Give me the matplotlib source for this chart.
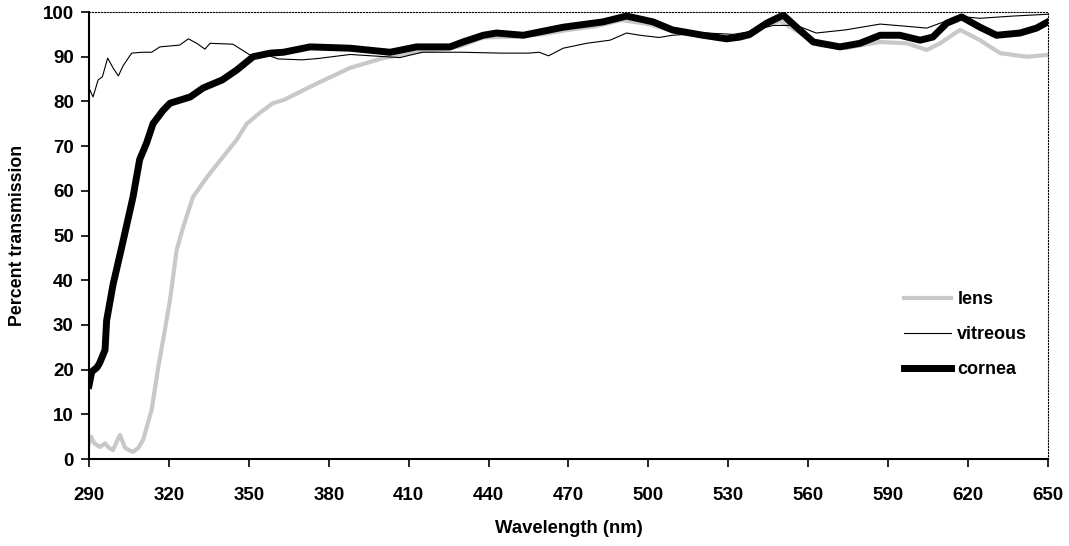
import matplotlib.pyplot as plt

plt.rcParams['font.family'] = ['Liberation Sans', 'DejaVu Sans']
plt.rcParams['font.weight'] = 'bold'

# wavelength (nm) / percent transmission
lens_wl = [290, 290.7, 292, 294, 296, 297.5, 299, 300.5, 301.6, 303.5, 305, 306.5,
           308.5, 310.3, 313.5, 316, 318.5, 320.4, 322.9, 325.4, 329, 334.2, 340.3,
           345.4, 349.2, 354.2, 359, 363, 375.5, 388, 400.5, 406.7, 415, 425, 430,
           438, 450, 460, 470, 480, 490, 500, 510, 520, 530, 538, 544, 549.4, 557,
           564.4, 574.4, 587, 597, 604.5, 609.5, 617, 624.5, 632, 642, 650]
lens = [3.5, 5, 3.5, 2.7, 3.5, 2.5, 2, 4, 5.4, 2.5, 2, 1.6,
        2.5, 4.3, 11, 20.6, 29, 35.6, 46.8, 52, 58.6, 63, 67.6,
        71.4, 75, 77.5, 79.6, 80.3, 84, 87.5, 89.7, 90.4, 91.2, 91.8, 92.5,
        94.3, 94.5, 95, 96, 96.8, 98.2, 97.3, 95.6, 94.6, 93.8, 94.5, 97, 98, 95.3,
        92.6, 92, 93.3, 93, 91.5, 93, 96, 93.7, 90.8, 90, 90.4]

vitreous_wl = [290, 291.5, 293.4, 295, 297, 299, 301, 302.8, 306, 310, 313.5, 316.6,
               324, 327.3, 330.4, 333.5, 335.4, 344, 350.4, 356, 361, 370, 376, 388,
               396, 406.7, 415, 430, 445, 455, 459, 462.5, 468, 476.8, 485.6, 491.8,
               496.8, 504, 509, 521.9, 531.9, 536.9, 546.9, 555.6, 563, 574, 587, 597,
               604.5, 609.5, 617, 624.5, 637, 650]
vitreous = [83, 81, 84.8, 85.5, 89.7, 87.5, 85.7, 88, 90.8, 91, 91, 92.2,
            92.6, 94, 93, 91.7, 93, 92.8, 90.4, 90.6, 89.5, 89.3, 89.6, 90.5,
            90.2, 89.8, 91, 91, 90.8, 90.8, 91, 90.2, 91.9, 93, 93.7, 95.3,
            94.8, 94.3, 94.8, 95.3, 95, 95.5, 97, 97, 95.3, 96, 97.3, 96.8,
            96.4, 97.5, 99, 98.6, 99.1, 99.5]

cornea_wl = [290, 291, 293, 294, 296, 296.6, 299, 302.3, 304, 306.5, 309, 311.6, 314,
             317.8, 320.4, 328, 332.8, 340, 345.4, 351.6, 358, 363, 373, 388, 403,
             413, 425.5, 430.4, 438, 443, 453, 468, 483, 491.8, 501.7, 509, 520.5,
             529.4, 534.4, 538, 544.4, 550.6, 555.6, 561.9, 571.9, 579.4, 587, 594.4,
             602, 606.8, 612, 617.6, 624.5, 630.7, 639.5, 645.7, 650]
cornea = [16.5, 19.5, 20.5, 21.5, 24.4, 31, 39, 47.5, 52, 58.6, 67, 70.7, 75,
          78, 79.6, 81, 83, 84.8, 87, 90, 90.8, 91, 92.2, 91.9, 91,
          92.2, 92.2, 93.3, 94.8, 95.3, 94.8, 96.6, 97.8, 99.1, 97.8, 96, 94.8,
          94, 94.4, 95, 97.5, 99.3, 96.6, 93.3, 92.2, 93, 94.8, 94.8,
          93.7, 94.4, 97.5, 98.9, 96.6, 94.8, 95.3, 96.4, 97.8]

x_ticks = list(range(290, 651, 30))
y_ticks = list(range(0, 101, 10))

fig = plt.figure(figsize=(10.69, 5.46), dpi=100)
ax = fig.add_axes([0.0833, 0.1593, 0.897, 0.8187])

ax.plot(lens_wl, lens, color='#c8c8c8', lw=3.0, label='lens', zorder=2)
ax.plot(cornea_wl, cornea, color='black', lw=5.0, label='cornea', zorder=3)
ax.plot(vitreous_wl, vitreous, color='black', lw=0.8, label='vitreous', zorder=4)

ax.set_xlim(290, 650)
ax.set_ylim(0, 100)
ax.set_xticks(x_ticks)
ax.set_yticks(y_ticks)
ax.tick_params(axis='both', direction='out', length=6, width=1.2, labelsize=13.5)
ax.tick_params(axis='x', pad=14)
ax.tick_params(axis='y', pad=5)

for side in ['top', 'right']:
    ax.spines[side].set_linestyle(':')
    ax.spines[side].set_linewidth(0.8)
for side in ['left', 'bottom']:
    ax.spines[side].set_linewidth(1.5)

ax.set_xlabel('Wavelength (nm)', fontsize=13.3, fontweight='bold', labelpad=12)
ax.set_ylabel('Percent transmission', fontsize=12.8, fontweight='bold', labelpad=12)

handles, labels = ax.get_legend_handles_labels()
order = [labels.index(n) for n in ['lens', 'vitreous', 'cornea']]
ax.legend([handles[i] for i in order], [labels[i] for i in order],
          frameon=False, fontsize=13, loc='center left',
          bbox_to_anchor=(0.833, 0.278), handlelength=2.6, handletextpad=0.35,
          labelspacing=1.0)

fig.savefig('out.png', dpi=100)
